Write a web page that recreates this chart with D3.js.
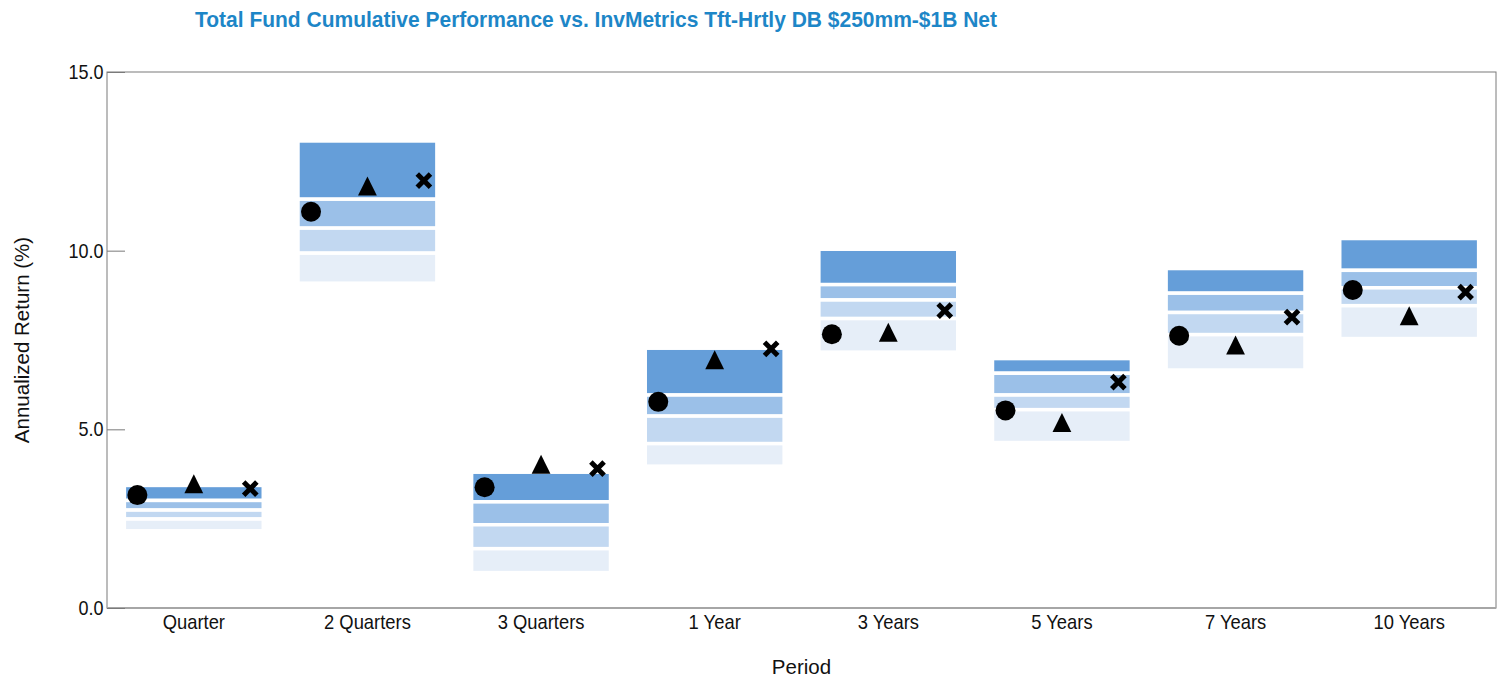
<!DOCTYPE html>
<html>
<head>
<meta charset="utf-8">
<script src="https://cdn.jsdelivr.net/npm/d3@7"></script>
<style>
  body { margin: 0; background: #fff; }
  svg { display: block; }
</style>
</head>
<body>
<svg width="1504" height="680"></svg>
<script>
// Periods on the x axis
const periods = ["Quarter", "2 Quarters", "3 Quarters", "1 Year", "3 Years", "5 Years", "7 Years", "10 Years"];

// Universe percentile breaks (5th, 25th, median, 75th, 95th)
const p05 = [3.43, 13.07, 3.80, 7.27, 10.04, 6.98, 9.50, 10.34];
const p25 = [3.01, 11.44, 2.97, 5.96, 9.05, 6.57, 8.81, 9.45];
const p50 = [2.74, 10.63, 2.33, 5.37, 8.62, 5.96, 8.27, 8.96];
const p75 = [2.49, 9.93, 1.66, 4.60, 8.10, 5.55, 7.65, 8.46];
const p95 = [2.16, 9.09, 0.99, 3.97, 7.16, 4.63, 6.66, 7.54];

// Marker series
const fund = [3.16, 11.09, 3.38, 5.77, 7.66, 5.53, 7.62, 8.90];
const triangleSeries = [3.48, 11.81, 4.02, 6.95, 7.72, 5.19, 7.36, 8.18];
const crossSeries = [3.34, 11.96, 3.90, 7.25, 8.32, 6.32, 8.14, 8.84];

const yTicks = [0, 5, 10, 15];

const bandColors = ["#659ed9", "#9bc0e8", "#c2d8f1", "#e6eef8"];
const font = "'Liberation Sans', Arial, sans-serif";

const margin = {left: 107, right: 8, top: 72, bottom: 72};
const width = 1504, height = 680;

const svg = d3.select("svg");

const x = d3.scaleBand()
    .domain(periods)
    .range([margin.left, width - margin.right])
    .padding(0);

const y = d3.scaleLinear()
    .domain([0, 15])
    .range([height - margin.bottom, margin.top]);

const bw = x.bandwidth();
const boxW = bw * 0.8;
const mx = d3.scalePoint()
    .domain(["fund", "tri", "cross"])
    .range([-bw * 0.325, bw * 0.325]);

// floating percentile boxes
const rows = periods.map((p, i) => ({
  period: p,
  breaks: [p05[i], p25[i], p50[i], p75[i], p95[i]]
}));

const boxes = svg.append("g")
  .selectAll("g")
  .data(rows)
  .join("g")
    .attr("transform", d => `translate(${x(d.period) + bw / 2},0)`);

boxes.selectAll("rect")
  .data(d => d3.range(4).map(k => ({hi: d.breaks[k], lo: d.breaks[k + 1], k})))
  .join("rect")
    .attr("x", -boxW / 2)
    .attr("width", boxW)
    .attr("y", d => y(d.hi))
    .attr("height", d => y(d.lo) - y(d.hi))
    .attr("fill", d => bandColors[d.k])
    .attr("stroke", "#fff")
    .attr("stroke-width", 3.5);

// frame
svg.append("rect")
    .attr("x", margin.left)
    .attr("y", margin.top)
    .attr("width", width - margin.right - margin.left)
    .attr("height", y(0) - margin.top)
    .attr("fill", "none")
    .attr("stroke", "#7a7a7a")
    .attr("stroke-width", 1);

svg.append("line")
    .attr("x1", margin.left)
    .attr("x2", width - margin.right)
    .attr("y1", y(0))
    .attr("y2", y(0))
    .attr("stroke", "#a6a6a6")
    .attr("stroke-width", 2);

// y axis
const yAxis = svg.append("g")
    .attr("transform", `translate(${margin.left},0)`)
    .call(d3.axisLeft(y).tickValues(yTicks).tickFormat(d3.format(".1f")).tickSize(-18).tickPadding(4));
yAxis.select(".domain").remove();
yAxis.selectAll(".tick line").attr("stroke", "#7a7a7a");
yAxis.selectAll("text")
    .attr("font-family", font)
    .attr("font-size", 20)
    .attr("transform", "scale(0.9,1)")
    .attr("fill", "#111");

// x axis
const xAxis = svg.append("g")
    .attr("transform", `translate(0,${y(0)})`)
    .call(d3.axisBottom(x).tickSize(0).tickPadding(7));
xAxis.select(".domain").remove();
xAxis.selectAll("text")
    .attr("font-family", font)
    .attr("font-size", 20)
    .attr("transform", "scale(0.92,1)")
    .attr("fill", "#111");

// markers
const markers = svg.append("g");

markers.selectAll("circle")
  .data(periods)
  .join("circle")
    .attr("cx", p => x(p) + bw / 2 + mx("fund"))
    .attr("cy", (p, i) => y(fund[i]))
    .attr("r", 10)
    .attr("fill", "#000");

markers.selectAll("path.tri")
  .data(periods)
  .join("path")
    .attr("class", "tri")
    .attr("transform", (p, i) => `translate(${x(p) + bw / 2 + mx("tri")},${y(triangleSeries[i])})`)
    .attr("d", "M0,-9.5L9.4,9.5L-9.4,9.5Z")
    .attr("fill", "#000");

markers.selectAll("path.cross")
  .data(periods)
  .join("path")
    .attr("class", "cross")
    .attr("transform", (p, i) => `translate(${x(p) + bw / 2 + mx("cross")},${y(crossSeries[i])})`)
    .attr("d", "M-6.6,-6.6L6.6,6.6M-6.6,6.6L6.6,-6.6")
    .attr("stroke", "#000")
    .attr("stroke-width", 5)
    .attr("fill", "none");

// title and axis titles
svg.append("text")
    .attr("x", 596)
    .attr("y", 27)
    .attr("text-anchor", "middle")
    .attr("font-family", font)
    .attr("font-weight", "bold")
    .attr("font-size", 22)
    .attr("textLength", 802)
    .attr("lengthAdjust", "spacingAndGlyphs")
    .attr("fill", "#1d86c7")
    .text("Total Fund Cumulative Performance vs. InvMetrics Tft-Hrtly DB $250mm-$1B Net");

svg.append("text")
    .attr("transform", `translate(29,${(margin.top + y(0)) / 2}) rotate(-90)`)
    .attr("text-anchor", "middle")
    .attr("font-family", font)
    .attr("font-size", 20.5)
    .attr("fill", "#111")
    .text("Annualized Return (%)");

svg.append("text")
    .attr("x", (margin.left + width - margin.right) / 2)
    .attr("y", 674)
    .attr("text-anchor", "middle")
    .attr("font-family", font)
    .attr("font-size", 20.5)
    .attr("fill", "#111")
    .text("Period");
</script>
</body>
</html>
